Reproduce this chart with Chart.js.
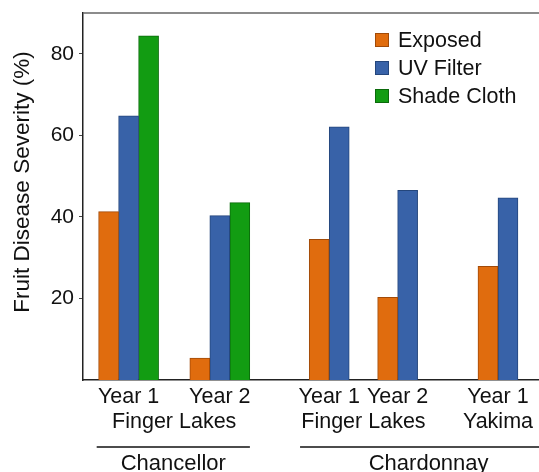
<!DOCTYPE html>
<html>
<head>
<meta charset="utf-8">
<script src="https://cdn.jsdelivr.net/npm/chart.js@4/dist/chart.umd.min.js"></script>
<style>
html,body{margin:0;padding:0;background:#fff;}
canvas{display:block;}
</style>
</head>
<body>
<canvas id="c" width="539" height="472"></canvas>
<script>
// ---- data ----
const groupPositions = [1, 3, 5.4, 6.9, 9.1];
const exposed    = [41.3, 5.4, 34.5, 20.3, 27.9];
const uvFilter   = [64.8, 40.3, 62.1, 46.5, 44.7];
const shadeCloth = [84.4, 43.5, null, null, null];
const seriesNames = ['Exposed', 'UV Filter', 'Shade Cloth'];
const tickPositions = [1, 2, 3, 5.4, 6.15, 6.9, 9.1];
const tickLabels = [['Year 1'], ['', 'Finger Lakes'], ['Year 2'], ['Year 1'], ['', 'Finger Lakes'], ['Year 2'], ['Year 1', 'Yakima']];
const cultivars = ['Chancellor', 'Chardonnay'];
const cultivarSpans = [[0.3, 3.66], [4.76, 10.4]];
const yTicks = [20, 40, 60, 80];
const yTitle = 'Fruit Disease Severity (%)';

const FONT = '"Liberation Sans", Arial, Helvetica, sans-serif';
const fills = ['#E06C0E', '#3862A8', '#129C12'];
const borders = ['#A14A08', '#24467C', '#0B6A0B'];

function pts(vals){ return vals.map((v,i)=>({x: groupPositions[i], y: v})); }

const overlay = {
  id: 'overlay',
  afterDraw(chart){
    const ctx = chart.ctx, ca = chart.chartArea, xs = chart.scales.x;
    ctx.save();
    // top frame line
    ctx.strokeStyle = '#666';
    ctx.lineWidth = 1.5;
    ctx.beginPath();
    ctx.moveTo(ca.left, ca.top);
    ctx.lineTo(chart.width, ca.top);
    ctx.stroke();
    // y title
    ctx.save();
    ctx.translate(23, 182);
    ctx.rotate(-Math.PI / 2);
    ctx.font = '22.5px ' + FONT;
    ctx.fillStyle = '#111';
    ctx.textAlign = 'center';
    ctx.textBaseline = 'middle';
    ctx.fillText(yTitle, 0, 0);
    ctx.restore();
    // legend
    ctx.font = '21.5px ' + FONT;
    ctx.textBaseline = 'middle';
    ctx.textAlign = 'left';
    chart.data.datasets.forEach((ds, i) => {
      const y = 40 + i * 28;
      ctx.fillStyle = ds.backgroundColor;
      ctx.fillRect(375, y - 7, 14, 14);
      ctx.strokeStyle = ds.borderColor;
      ctx.lineWidth = 1;
      ctx.strokeRect(375.5, y - 6.5, 13, 13);
      ctx.fillStyle = '#111';
      ctx.fillText(ds.label, 398, y + 1);
    });
    // cultivar group labels
    ctx.strokeStyle = '#111';
    ctx.lineWidth = 1.5;
    ctx.textAlign = 'center';
    ctx.font = '22px ' + FONT;
    cultivars.forEach((name, i) => {
      const a = xs.getPixelForValue(cultivarSpans[i][0]);
      const b = Math.min(chart.width, xs.getPixelForValue(cultivarSpans[i][1]));
      ctx.beginPath();
      ctx.moveTo(a, 447);
      ctx.lineTo(b, 447);
      ctx.stroke();
      ctx.fillStyle = '#111';
      ctx.fillText(name, (a + xs.getPixelForValue(cultivarSpans[i][1])) / 2, 464);
    });
    ctx.restore();
  }
};

new Chart(document.getElementById('c'), {
  type: 'bar',
  data: {
    datasets: [exposed, uvFilter, shadeCloth].map((vals, i) => ({
      label: seriesNames[i],
      data: pts(vals),
      backgroundColor: fills[i],
      borderColor: borders[i],
      borderWidth: 1,
      barThickness: 20,
      skipNull: true
    }))
  },
  options: {
    responsive: false,
    animation: false,
    devicePixelRatio: 1,
    layout: { padding: { top: 13, right: 0, left: 0, bottom: 0 } },
    plugins: { legend: { display: false }, tooltip: { enabled: false } },
    scales: {
      x: {
        type: 'linear',
        offset: false,
        min: 0,
        max: 10,
        grid: { display: true, drawOnChartArea: false, drawTicks: false },
        border: { display: true, color: '#222', width: 1.5 },
        afterBuildTicks(scale){ scale.ticks = tickPositions.map(v => ({ value: v })); },
        afterFit(scale){ scale.height = 92; },
        ticks: {
          autoSkip: false,
          maxRotation: 0,
          padding: 5,
          color: '#111',
          font: { family: FONT, size: 21.5, lineHeight: 1.16 },
          callback(value, index){ return tickLabels[index]; }
        }
      },
      y: {
        min: 0,
        max: 90,
        afterBuildTicks(scale){ scale.ticks = yTicks.map(v => ({ value: v })); },
        afterFit(scale){ scale.width = 83; scale.paddingTop = 0; scale.paddingBottom = 0; },
        grid: { drawOnChartArea: false, drawTicks: true, tickLength: 4, color: '#444' },
        border: { display: true, color: '#222', width: 1.5 },
        ticks: {
          padding: 5,
          color: '#111',
          font: { family: FONT, size: 21, lineHeight: 1 }
        }
      }
    }
  },
  plugins: [overlay]
});
</script>
</body>
</html>
